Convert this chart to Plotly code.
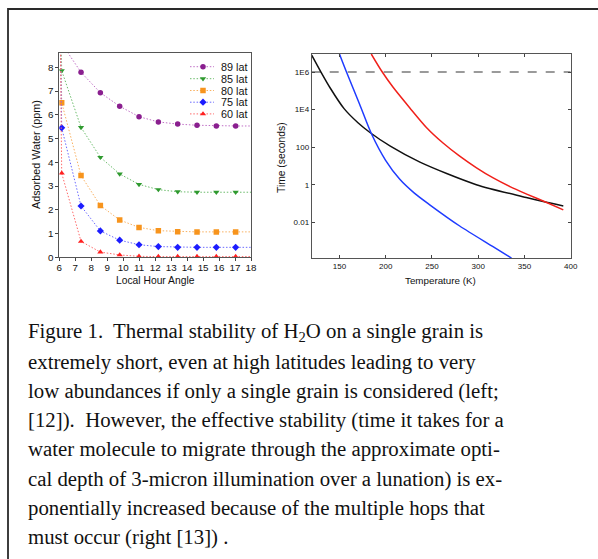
import plotly.graph_objects as go

W, H = 598, 559

# ---------------- Left panel data (adsorbed water vs local hour angle) -------------
hour_angle = [6.15, 7.36, 8.57, 9.78, 10.99, 12.2, 13.41, 14.62, 15.83, 17.04]
lat_labels = ["89 lat", "85 lat", "80 lat", "75 lat", "60 lat"]
water_89 = [9.0, 7.79, 6.93, 6.36, 5.92, 5.70, 5.61, 5.56, 5.53, 5.53]
water_85 = [7.86, 5.47, 4.21, 3.51, 3.07, 2.85, 2.76, 2.74, 2.74, 2.74]
water_80 = [6.51, 3.44, 2.18, 1.57, 1.26, 1.12, 1.08, 1.07, 1.07, 1.07]
water_75 = [5.45, 2.16, 1.11, 0.72, 0.53, 0.45, 0.42, 0.42, 0.42, 0.42]
water_60 = [3.54, 0.67, 0.22, 0.10, 0.04, 0.03, 0.03, 0.03, 0.03, 0.03]
# dotted fit curves extend to the axis edges
fit_start_hour = 6.02
fit_start_value = [10.5, 12.0, 12.0, 12.0, 12.0]
fit_end_hour = 18.0

# ---------------- Right panel data (time vs temperature, log10 seconds) ------------
black_T = [120, 130, 140, 155, 170, 183, 205, 237, 298, 352, 375, 392]
black_log10 = [6.9, 6.0, 5.15, 4.05, 3.3, 2.78, 2.05, 1.2, 0.0, -0.68, -0.95, -1.13]
blue_T = [150, 157.6, 171.7, 184.7, 199.9, 215, 231, 247.6, 280, 316, 336]
blue_log10 = [6.96, 6.0, 4.3, 2.7, 1.3, 0.3, -0.45, -1.07, -2.2, -3.3, -3.91]
red_T = [184.4, 196.3, 207.8, 225.9, 244, 262, 280, 298.2, 316.2, 334.3, 352.4, 374, 392]
red_log10 = [6.96, 6.0, 5.2, 4.1, 3.05, 2.22, 1.52, 0.9, 0.36, -0.1, -0.5, -0.95, -1.34]
lunation_T = [120, 400]
lunation_time = [1e6, 1e6]

time_ticks = [0.01, 1, 100, 1e4, 1e6]
time_ticktext = ["0.01", "1", "100", "1E4", "1E6"]
temp_ticks = [150, 200, 250, 300, 350, 400]

caption_lines = [
    "Figure 1.\u00a0 Thermal stability of H<sub>2</sub>O on a single grain is",
    "extremely short, even at high latitudes leading to very",
    "low abundances if only a single grain is considered (left;",
    "[12]).\u00a0 However, the effective stability (time it takes for a",
    "water molecule to migrate through the approximate opti-",
    "cal depth of 3-micron illumination over a lunation) is ex-",
    "ponentially increased because of the multiple hops that",
    "must occur (right [13]) .",
]


def px(x):
    return x / W


def py(y):
    return 1 - y / H


SANS = "Liberation Sans, Arial, sans-serif"
SERIF = "Liberation Serif, Times New Roman, serif"
DOTS = "1.5px,1.8px"

fig = go.Figure()

series = [water_89, water_85, water_80, water_75, water_60]
colors = ["#8a1f8f", "#2f9a2f", "#f7941d", "#1c1cff", "#ff2020"]
line_colors = ["#c070c6", "#6cbc6c", "#f8b060", "#6a6aff", "#ff6a6a"]
symbols = ["circle", "triangle-down", "square", "diamond", "triangle-up"]

for vals, col, lcol, sym, name, fs in zip(series, colors, line_colors, symbols,
                                          lat_labels, fit_start_value):
    fx = [fit_start_hour] + hour_angle + [fit_end_hour]
    fy = [fs] + vals + [vals[-1]]
    fig.add_trace(go.Scatter(x=fx, y=fy, mode="lines", xaxis="x", yaxis="y",
                             line=dict(color=lcol, width=1, dash=DOTS),
                             showlegend=False, hoverinfo="skip"))
    fig.add_trace(go.Scatter(x=hour_angle, y=vals, mode="markers", xaxis="x", yaxis="y",
                             marker=dict(color=col, size=5.5, symbol=sym),
                             name=name, showlegend=False))

# custom compact legend (pixel overlay axes)
leg_rows = [66.7, 78.7, 90.5, 102.2, 113.9]
for i, (col, lcol, sym, name) in enumerate(zip(colors, line_colors, symbols, lat_labels)):
    yrow = leg_rows[i]
    fig.add_trace(go.Scatter(x=[190, 214], y=[yrow, yrow], mode="lines", xaxis="x3", yaxis="y3",
                             line=dict(color=lcol, width=1, dash=DOTS),
                             showlegend=False, hoverinfo="skip"))
    fig.add_trace(go.Scatter(x=[203], y=[yrow], mode="markers", xaxis="x3", yaxis="y3",
                             marker=dict(color=col, size=5.5, symbol=sym),
                             showlegend=False, hoverinfo="skip"))
    fig.add_annotation(x=219, y=yrow, xref="x3", yref="y3", text=name, showarrow=False,
                       xanchor="left", yanchor="middle",
                       font=dict(family=SANS, size=10.8, color="#111"))

# right panel
fig.add_trace(go.Scatter(x=lunation_T, y=lunation_time, mode="lines", xaxis="x2", yaxis="y2",
                         line=dict(color="#7a7a7a", width=1.4, dash="dash"),
                         showlegend=False, hoverinfo="skip"))
for T, lg, col in [(black_T, black_log10, "#111111"), (blue_T, blue_log10, "#1f3cff"),
                   (red_T, red_log10, "#f0201a")]:
    fig.add_trace(go.Scatter(x=T, y=[10 ** v for v in lg], mode="lines", xaxis="x2", yaxis="y2",
                             line=dict(color=col, width=1.5, shape="spline", smoothing=0.8),
                             showlegend=False))

axis_common = dict(showgrid=False, zeroline=False, showline=True, linecolor="#555",
                   linewidth=1, tickcolor="#444", automargin=False)

fig.update_layout(
    width=W, height=H,
    margin=dict(l=0, r=0, t=0, b=0),
    paper_bgcolor="white", plot_bgcolor="rgba(0,0,0,0)",
    showlegend=False,
    xaxis=dict(domain=[px(59.3), px(251)], range=[6, 18], dtick=1, tick0=6,
               ticks="outside", ticklen=3, mirror=True, anchor="y", ticklabelstandoff=-2,
               tickfont=dict(family=SANS, size=9.8, color="#111"), **axis_common),
    yaxis=dict(domain=[py(257.3), py(53.3)], range=[0, 8.59], dtick=1, tick0=0,
               ticks="outside", ticklen=3, mirror=True, anchor="x",
               tickfont=dict(family=SANS, size=9.8, color="#111"), **axis_common),
    xaxis2=dict(domain=[px(311.7), px(570.7)], range=[120, 400], tickvals=temp_ticks,
                ticks="inside", ticklen=3, mirror="ticks", anchor="y2",
                tickfont=dict(family=SANS, size=8, color="#111"), **axis_common),
    yaxis2=dict(domain=[py(258.3), py(54)], type="log", range=[-3.92, 6.96],
                tickvals=time_ticks, ticktext=time_ticktext,
                ticks="inside", ticklen=3, mirror="ticks", anchor="x2",
                tickfont=dict(family=SANS, size=8, color="#111"), **axis_common),
    xaxis3=dict(domain=[0, 1], range=[0, W], visible=False, anchor="y3", fixedrange=True),
    yaxis3=dict(domain=[0, 1], range=[H, 0], visible=False, anchor="x3", fixedrange=True),
)

# axis titles (explicitly centred)
title_kw = dict(xref="paper", yref="paper", showarrow=False, xanchor="center", yanchor="middle")
fig.add_annotation(x=px(36), y=py(155), text="Adsorbed Water (ppm)", textangle=-90,
                   font=dict(family=SANS, size=10.8, color="#111"), **title_kw)
fig.add_annotation(x=px(155), y=py(280), text="Local Hour Angle",
                   font=dict(family=SANS, size=10.3, color="#111"), **title_kw)
fig.add_annotation(x=px(281), y=py(158), text="Time (seconds)", textangle=-90,
                   font=dict(family=SANS, size=10.3, color="#111"), **title_kw)
fig.add_annotation(x=px(440), y=py(280), text="Temperature (K)",
                   font=dict(family=SANS, size=9.8, color="#111"), **title_kw)

# caption
cap_size = 20.8
for i, line in enumerate(caption_lines):
    baseline = 338.5 + 29.3 * i
    fig.add_annotation(x=px(25.5), y=py(baseline - 0.3 * cap_size), xref="paper", yref="paper",
                       text=line, showarrow=False, xanchor="left", yanchor="middle",
                       font=dict(family=SERIF, size=cap_size, color="#111"))

# fragment of text above the frame
fig.add_annotation(x=px(367), y=py(-5), xref="paper", yref="paper", text="g", showarrow=False,
                   xanchor="center", yanchor="bottom",
                   font=dict(family=SERIF, size=cap_size, color="#111"))

# figure frame
fig.add_shape(type="rect", xref="paper", yref="paper", x0=px(8), y0=py(9), x1=px(620), y1=py(580),
              line=dict(color="#2a2a2a", width=1.8), fillcolor="rgba(0,0,0,0)", layer="above")

fig.write_html("out.html", config={"displayModeBar": False},
               post_script="document.body.style.margin='0';")
